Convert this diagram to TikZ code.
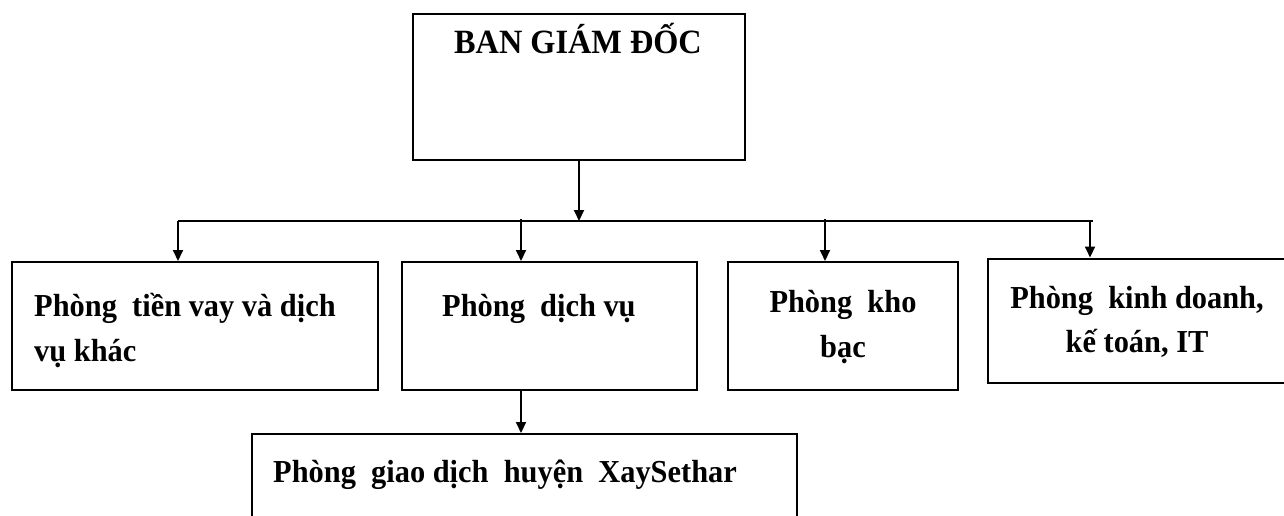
\documentclass[tikz,border=0pt]{standalone}
\usepackage{fontspec}
\setmainfont{Liberation Serif}[FakeStretch=0.95]
\usetikzlibrary{arrows.meta}

\begin{document}
\begin{tikzpicture}
  [x=1pt, y=-1pt,
   box/.style={draw, line width=2pt, rectangle, inner sep=0pt},
   arr/.style={line width=2pt, -{Triangle[length=11pt,width=10pt]}},
   txt/.style={inner sep=0pt, font=\fontsize{32}{44}\selectfont\bfseries}]
  \clip (0,0) rectangle (1284,516);

  % boxes
  \node[box, minimum width=332pt, minimum height=146pt] (bgd) at (579,87) {};
  \node[box, minimum width=366pt, minimum height=128pt] (tv)  at (195,326) {};
  \node[box, minimum width=295pt, minimum height=128pt] (dv)  at (549.5,326) {};
  \node[box, minimum width=230pt, minimum height=128pt] (kb)  at (843,326) {};
  \node[box, minimum width=312pt, minimum height=124pt] (kd)  at (1144,320.5) {};
  \node[box, minimum width=545pt, minimum height=120pt] (gd)  at (524.5,494) {};

  % texts
  \node[txt, font=\fontsize{34}{44}\selectfont\bfseries, anchor=base] (t0) at (578,54) {BAN GIÁM ĐỐC};
  \node[txt, anchor=base west] (t1a) at (34,316) {Phòng\ \ tiền vay và dịch};
  \node[txt, anchor=base west] (t1b) at (34,361) {vụ khác};
  \node[txt, anchor=base west] (t2) at (442,316) {Phòng\ \ dịch vụ};
  \node[txt, anchor=base] (t3a) at (843,312) {Phòng\ \ kho};
  \node[txt, anchor=base] (t3b) at (843,357) {bạc};
  \node[txt, anchor=base] (t4a) at (1137,308) {Phòng\ \ kinh doanh,};
  \node[txt, anchor=base] (t4b) at (1137,352) {kế toán, IT};
  \node[txt, anchor=base west] (t5) at (273,482) {Phòng\ \ giao dịch\ \ huyện\ \ XaySethar};

  % bus
  \coordinate (p1) at (178,221);
  \coordinate (p2) at (521,221);
  \coordinate (p3) at (825,221);
  \coordinate (p4) at (1093,221);
  \draw[line width=2pt] (p1) -- (p4);
  \draw[arr] (bgd.south) -- (bgd.south |- p1);
  \draw[arr] (p1) -- (p1 |- tv.north);
  \draw[arr] ([yshift=2pt]p2) -- (p2 |- dv.north);
  \draw[arr] ([yshift=2pt]p3) -- (p3 |- kb.north);
  \draw[arr] ([xshift=-3pt]p4) -- ([xshift=-3pt]p4 |- kd.north);
  \draw[arr] (p2 |- dv.south) -- (p2 |- gd.north);

\end{tikzpicture}
\end{document}
